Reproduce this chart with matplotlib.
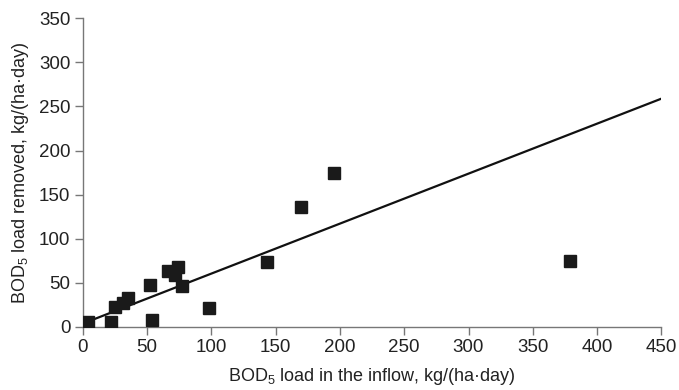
import matplotlib
matplotlib.use("Agg")
import matplotlib.pyplot as plt
import numpy as np

# inflow load vs removed load, kg/(ha*day)
bod_in = [4, 22, 25, 31, 35, 52, 54, 66, 72, 74, 77, 98, 143, 170, 195, 379]
bod_removed = [5, 6, 23, 27, 33, 47, 8, 63, 59, 68, 46, 21, 74, 136, 174, 75]

# fitted trend line
fit_slope = 0.567
fit_intercept = 3.7
fit_range = [4, 450]

x_ticks = list(range(0, 451, 50))
y_ticks = list(range(0, 351, 50))

plt.rcParams['font.family'] = ['Liberation Sans', 'DejaVu Sans']
plt.rcParams['mathtext.fontset'] = 'custom'
plt.rcParams['mathtext.rm'] = 'Liberation Sans'
plt.rcParams['mathtext.it'] = 'Liberation Sans:italic'

fig = plt.figure(figsize=(6.79, 3.90), dpi=100)
ax = fig.add_axes([0.122, 0.162, 0.852, 0.791])

xl = np.array(fit_range, dtype=float)
ax.plot(xl, fit_intercept + fit_slope * xl, color='#111111', linewidth=1.6, zorder=2)
ax.plot(bod_in, bod_removed, linestyle='none', marker='s', markersize=8.5,
        color='#1a1a1a', zorder=3)

ax.set_xlim(0, 450)
ax.set_ylim(0, 350)
ax.set_xticks(x_ticks)
ax.set_yticks(y_ticks)
for s in ['top', 'right']:
    ax.spines[s].set_visible(False)
for s in ['left', 'bottom']:
    ax.spines[s].set_color('#777777')
    ax.spines[s].set_linewidth(1.0)
ax.tick_params(axis='both', colors='#777777', labelcolor='#222222',
               labelsize=13.5, length=6, width=1.0, direction='out', pad=3)

ax.set_xlabel('BOD$_5$ load in the inflow, kg/(ha·day)', fontsize=13,
              color='#222222', labelpad=7)
ax.set_ylabel('BOD$_5$ load removed, kg/(ha·day)', fontsize=13,
              color='#222222', labelpad=6)

fig.savefig('out.png', dpi=100)
